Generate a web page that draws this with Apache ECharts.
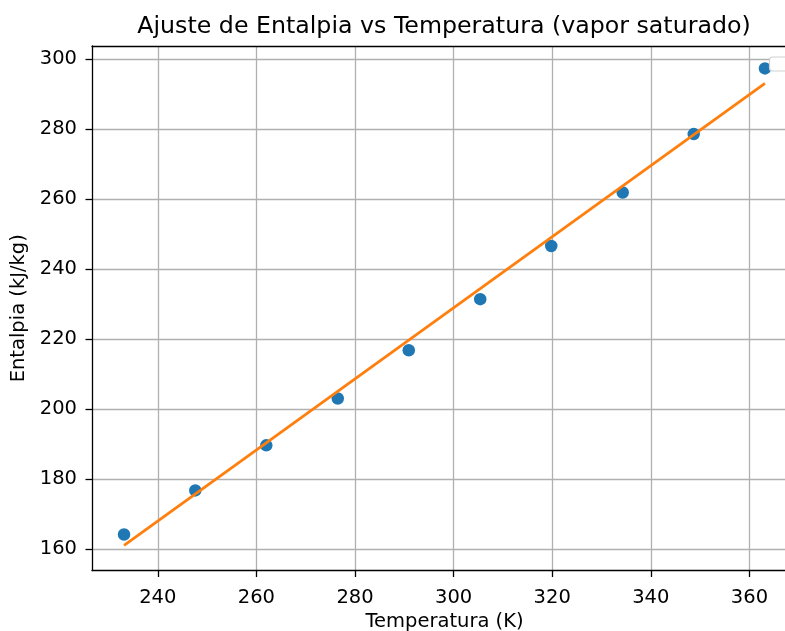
<!DOCTYPE html>
<html>
<head>
<meta charset="utf-8">
<script src="https://cdn.jsdelivr.net/npm/echarts@6/dist/echarts.min.js"></script>
<style>
html,body{margin:0;padding:0;background:#fff;}
#chart{width:785px;height:631px;}
</style>
</head>
<body>
<div id="chart"></div>
<script>
// Data
const temperatures = [233.15, 247.6, 262.0, 276.5, 290.9, 305.4, 319.8, 334.3, 348.7, 363.15];
const enthalpies   = [164.1, 176.7, 189.6, 203.0, 216.8, 231.4, 246.6, 261.9, 278.6, 297.4];
const fitT = [233.15, 363.15];
const fitH = [161.0, 293.1];
const xTicks = [240, 260, 280, 300, 320, 340, 360];
const yTicks = [160, 180, 200, 220, 240, 260, 280, 300];

const FONT = 'DejaVu Sans';
const chart = echarts.init(document.getElementById('chart'), null, {renderer: 'canvas'});
const xMin = 226.65, xMax = 369.65;
const option = {
  backgroundColor: '#fff',
  animation: false,
  title: {
    text: 'Ajuste de Entalpia vs Temperatura (vapor saturado)',
    left: 439, top: 10, textAlign: 'center',
    textStyle: {fontFamily: FONT, fontSize: 23.7, fontWeight: 'normal', color: '#000'}
  },
  grid: {
    left: 92, top: 46, width: 705, height: 524.5,
    show: false, containLabel: false, outerBoundsMode: 'none'
  },
  xAxis: [{
    type: 'value', min: xMin, max: xMax,
    name: 'Temperatura (K)', nameLocation: 'middle', nameGap: 41.5,
    nameTextStyle: {fontFamily: FONT, fontSize: 19.5, color: '#000'},
    axisLine: {show: true, onZero: false, lineStyle: {color: '#000', width: 1.3}},
    axisTick: {show: true, inside: false, length: 6.5, customValues: xTicks, lineStyle: {color: '#000', width: 1.3}},
    axisLabel: {customValues: xTicks, margin: 17, fontFamily: FONT, fontSize: 19.5, color: '#000'},
    splitLine: {show: true, lineStyle: {color: '#b0b0b0', width: 1.3}}
  }, {
    type: 'value', min: xMin, max: xMax, position: 'top',
    axisLine: {show: true, onZero: false, lineStyle: {color: '#000', width: 1.3}},
    axisTick: {show: false}, axisLabel: {show: false}, splitLine: {show: false}
  }],
  yAxis: {
    type: 'value', min: 153.8, max: 303.8,
    name: 'Entalpia (kJ/kg)', nameLocation: 'middle', nameGap: 61, nameRotate: 90,
    nameTextStyle: {fontFamily: FONT, fontSize: 19.5, color: '#000'},
    axisLine: {show: true, onZero: false, lineStyle: {color: '#000', width: 1.3}},
    axisTick: {show: true, inside: false, length: 6.5, customValues: yTicks, lineStyle: {color: '#000', width: 1.3}},
    axisLabel: {customValues: yTicks, margin: 15, fontFamily: FONT, fontSize: 19.5, color: '#000'},
    splitLine: {show: true, lineStyle: {color: '#b0b0b0', width: 1.3}}
  },
  series: [
    {
      type: 'scatter',
      data: temperatures.map((t, i) => [t, enthalpies[i]]),
      symbol: 'circle', symbolSize: 12.5,
      itemStyle: {color: '#1f77b4', opacity: 1},
      z: 3
    },
    {
      type: 'line',
      data: fitT.map((t, i) => [t, fitH[i]]),
      showSymbol: false, symbol: 'none',
      lineStyle: {color: '#ff7f0e', width: 2.8},
      z: 4
    }
  ],
  graphic: [
    {
      type: 'rect',
      shape: {x: 769.5, y: 57, width: 40, height: 14, r: 3},
      style: {fill: '#fff', stroke: '#d0d0d0', lineWidth: 1.2},
      z: 100
    }
  ]
};
chart.setOption(option);
</script>
</body>
</html>
